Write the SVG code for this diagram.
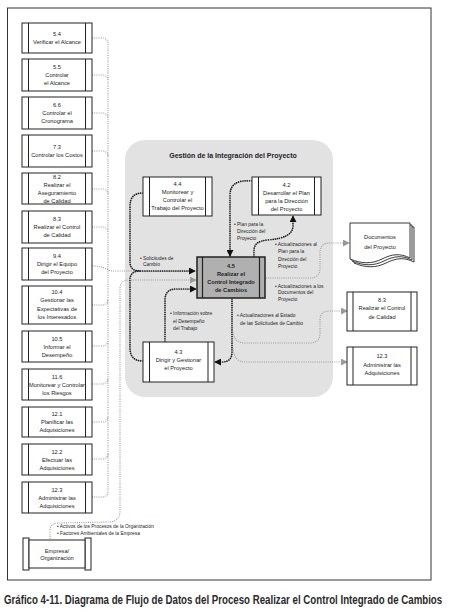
<svg xmlns="http://www.w3.org/2000/svg" width="454" height="616" viewBox="0 0 454 616">
<defs>
<style>
.box{fill:#fff;stroke:#222;stroke-width:1}
.t{font-family:"Liberation Sans",Arial,sans-serif;font-size:5.7px;fill:#222;text-anchor:middle}
.b{font-weight:bold}
.lbl{font-family:"Liberation Sans",Arial,sans-serif;font-size:4.9px;fill:#222}
.dk{fill:none;stroke:#1a1a1a;stroke-width:1.7;stroke-dasharray:0.01 2.2;stroke-linecap:round}
.gr{fill:none;stroke:#9a9a9a;stroke-width:1.1;stroke-dasharray:1 1.2}
</style>
<marker id="ad" viewBox="0 0 8 8" refX="7" refY="4" markerWidth="7" markerHeight="7" markerUnits="userSpaceOnUse" orient="auto"><path d="M0,0 L8,4 L0,8 z" fill="#111"/></marker>
<marker id="ag" viewBox="0 0 8 8" refX="7" refY="4" markerWidth="7" markerHeight="7" markerUnits="userSpaceOnUse" orient="auto"><path d="M0,0 L8,4 L0,8 z" fill="#9a9a9a"/></marker>
</defs>
<rect width="454" height="616" fill="#fff"/>
<rect x="7.5" y="8" width="423.5" height="572" fill="none" stroke="#333" stroke-width="1"/>

<rect id="integration-area" x="125" y="140" width="208" height="257" rx="20" fill="#e2e2e2"/>
<text x="233" y="158" font-family="Liberation Sans,Arial,sans-serif" font-size="7px" font-weight="bold" fill="#222" text-anchor="middle">Gestión de la Integración del Proyecto</text>

<g id="connectors">
<path class="gr" d="M92,38 H102 Q108,38 108,44 M92,75 H102 Q108,75 108,81 M92,113 H102 Q108,113 108,119 M92,151 H102 Q108,151 108,157 M92,189 H102 Q108,189 108,195 M92,227 H102 Q108,227 108,233 M92,305 H102 Q108,305 108,299 M92,346 H102 Q108,346 108,340 M92,384 H102 Q108,384 108,378 M92,422 H102 Q108,422 108,416 M92,459 H102 Q108,459 108,453 M92,497 H102 Q108,497 108,491 M108,44 V491"/>
<path class="gr" d="M92,266 Q104,266 110,271 L195,271"/>
<path class="gr" d="M50,539 L50,531 Q50,523 58,523 L110,522 Q120,521 120,511 L120,289 Q120,280 129,280 L196,280" marker-end="url(#ag)"/>
<path class="dk" d="M143,193 Q130,193 130,206 L130,262 Q130,271 140,271 L195,271" marker-end="url(#ad)"/>
<path class="dk" d="M143,361 Q130,361 130,348 L130,280 Q130,271 140,271"/>
<path class="dk" d="M165,341 L165,300 Q165,289 176,289 L196,289" marker-end="url(#ad)"/>
<path class="dk" d="M252,181 Q230,179 230,195 L230,256" marker-end="url(#ad)"/>
<path class="dk" d="M254,257 L254,250 Q254,241 268,240 Q293,238 293,226 L293,216" marker-end="url(#ad)"/>
<path class="dk" d="M232,299 L232,352 Q232,362 222,362 L215,362" marker-end="url(#ad)"/>
<path class="gr" d="M266,278 L310,278 Q320,278 320,268 L320,253 Q320,243 330,243 L349,243" marker-end="url(#ag)"/>
<path class="gr" d="M233,332 Q234,343 245,343 L310,343 Q320,343 320,333 L320,320 Q320,311 330,311 L347,311" marker-end="url(#ag)"/>
<path class="gr" d="M233,348 Q234,362 245,362 L347,362" marker-end="url(#ag)"/>
</g>

<g id="labels">
<text class="lbl" x="140" y="259.5">• Solicitudes de</text>
<text class="lbl" x="143" y="266">Cambio</text>
<text class="lbl" x="234" y="225.5">• Plan para la</text>
<text class="lbl" x="237" y="232.8">Dirección del</text>
<text class="lbl" x="237" y="239.5">Proyecto</text>
<text class="lbl" x="275" y="245.7">• Actualizaciones al</text>
<text class="lbl" x="278" y="253.4">Plan para la</text>
<text class="lbl" x="278" y="260.7">Dirección del</text>
<text class="lbl" x="278" y="268.4">Proyecto</text>
<text class="lbl" x="275" y="287.7">• Actualizaciones a los</text>
<text class="lbl" x="278" y="294.4">Documentos del</text>
<text class="lbl" x="278" y="301">Proyecto</text>
<text class="lbl" x="237" y="316.7">• Actualizaciones al Estado</text>
<text class="lbl" x="240" y="324.5">de las Solicitudes de Cambio</text>
<text class="lbl" x="170" y="315">• Información sobre</text>
<text class="lbl" x="173" y="322.7">el Desempeño</text>
<text class="lbl" x="173" y="330">del Trabajo</text>
<text class="lbl" x="57" y="527.7">• Activos de los Procesos de la Organización</text>
<text class="lbl" x="57" y="535.4">• Factores Ambientales de la Empresa</text>
</g>

<g id="n54"><rect class="box" x="22" y="23" width="70" height="30"/><path d="M28.5,23V53M85.5,23V53" stroke="#222"/><text class="t" x="57" y="36">5.4</text><text class="t" x="57" y="44">Verificar el Alcance</text></g>
<g id="n55"><rect class="box" x="22" y="59" width="70" height="32"/><path d="M28.5,59V91M85.5,59V91" stroke="#222"/><text class="t" x="57" y="69">5.5</text><text class="t" x="57" y="77">Controlar</text><text class="t" x="57" y="85">el Alcance</text></g>
<g id="n66"><rect class="box" x="22" y="97" width="70" height="32"/><path d="M28.5,97V129M85.5,97V129" stroke="#222"/><text class="t" x="57" y="107">6.6</text><text class="t" x="57" y="115">Controlar el</text><text class="t" x="57" y="123">Cronograma</text></g>
<g id="n73"><rect class="box" x="22" y="135" width="70" height="32"/><path d="M28.5,135V167M85.5,135V167" stroke="#222"/><text class="t" x="57" y="149">7.3</text><text class="t" x="57" y="157">Controlar los Costos</text></g>
<g id="n82"><rect class="box" x="22" y="173" width="70" height="31"/><path d="M28.5,173V204M85.5,173V204" stroke="#222"/><text class="t" x="57" y="179">8.2</text><text class="t" x="57" y="187">Realizar el</text><text class="t" x="57" y="195">Aseguramiento</text><text class="t" x="57" y="203">de Calidad</text></g>
<g id="n83"><rect class="box" x="22" y="211" width="70" height="32"/><path d="M28.5,211V243M85.5,211V243" stroke="#222"/><text class="t" x="57" y="221">8.3</text><text class="t" x="57" y="229">Realizar el Control</text><text class="t" x="57" y="237">de Calidad</text></g>
<g id="n94"><rect class="box" x="22" y="248" width="70" height="32"/><path d="M28.5,248V280M85.5,248V280" stroke="#222"/><text class="t" x="57" y="258">9.4</text><text class="t" x="57" y="266">Dirigir el Equipo</text><text class="t" x="57" y="274">del Proyecto</text></g>
<g id="n104"><rect class="box" x="22" y="286" width="70" height="38"/><path d="M28.5,286V324M85.5,286V324" stroke="#222"/><text class="t" x="57" y="294">10.4</text><text class="t" x="57" y="302">Gestionar las</text><text class="t" x="57" y="310.5">Expectativas de</text><text class="t" x="57" y="319">los Interesados</text></g>
<g id="n105"><rect class="box" x="22" y="331" width="70" height="31"/><path d="M28.5,331V362M85.5,331V362" stroke="#222"/><text class="t" x="57" y="340.5">10.5</text><text class="t" x="57" y="348.5">Informar el</text><text class="t" x="57" y="356.5">Desempeño</text></g>
<g id="n116"><rect class="box" x="22" y="369" width="70" height="31"/><path d="M28.5,369V400M85.5,369V400" stroke="#222"/><text class="t" x="57" y="378.5">11.6</text><text class="t" x="57" y="386.5" textLength="56" lengthAdjust="spacingAndGlyphs">Monitorear y Controlar</text><text class="t" x="57" y="394.5">los Riesgos</text></g>
<g id="n121"><rect class="box" x="22" y="407" width="70" height="30"/><path d="M28.5,407V437M85.5,407V437" stroke="#222"/><text class="t" x="57" y="416">12.1</text><text class="t" x="57" y="424">Planificar las</text><text class="t" x="57" y="432">Adquisiciones</text></g>
<g id="n122"><rect class="box" x="22" y="444" width="70" height="31"/><path d="M28.5,444V475M85.5,444V475" stroke="#222"/><text class="t" x="57" y="453.5">12.2</text><text class="t" x="57" y="461.5">Efectuar las</text><text class="t" x="57" y="469.5">Adquisiciones</text></g>
<g id="n123"><rect class="box" x="22" y="482" width="70" height="31"/><path d="M28.5,482V513M85.5,482V513" stroke="#222"/><text class="t" x="57" y="491.5">12.3</text><text class="t" x="57" y="499.5">Administrar las</text><text class="t" x="57" y="507.5">Adquisiciones</text></g>

<g id="empresa"><rect class="box" x="23" y="538" width="6" height="32"/><rect class="box" x="85" y="538" width="6" height="32"/><rect class="box" x="29" y="540" width="56" height="28"/><text class="t" x="57" y="552.5">Empresa/</text><text class="t" x="57" y="560">Organización</text></g>

<g id="n44"><rect class="box" x="143" y="177" width="69" height="39"/><path d="M149.5,177V216M205.5,177V216" stroke="#222"/><text class="t" x="177.5" y="185.5">4.4</text><text class="t" x="177.5" y="193.5">Monitorear y</text><text class="t" x="177.5" y="201.5">Controlar el</text><text class="t" x="177.5" y="210">Trabajo del Proyecto</text></g>
<g id="n42"><rect class="box" x="252" y="177" width="69" height="38"/><path d="M258.5,177V215M314.5,177V215" stroke="#222"/><text class="t" x="286.5" y="187">4.2</text><text class="t" x="286.5" y="195.3">Desarrollar el Plan</text><text class="t" x="286.5" y="203">para la Dirección</text><text class="t" x="286.5" y="211.3">del Proyecto</text></g>
<g id="n45"><rect x="197" y="257" width="68" height="41" fill="#b0b0b0" stroke="#222" stroke-width="1.5"/><path d="M202.5,257V298M259.5,257V298" stroke="#222" stroke-width="1.2"/><text class="t b" x="231" y="267.5">4.5</text><text class="t b" x="231" y="275.8">Realizar el</text><text class="t b" x="231" y="284.1">Control Integrado</text><text class="t b" x="231" y="292.4">de Cambios</text></g>
<g id="n43"><rect class="box" x="143" y="342" width="71" height="40"/><path d="M149.5,342V382M208,342V382" stroke="#222"/><text class="t" x="178.5" y="353.7">4.3</text><text class="t" x="178.5" y="362">Dirigir y Gestionar</text><text class="t" x="178.5" y="369.7">el Proyecto</text></g>

<g id="docs">
<path d="M354,227 H414 V262 C404,257 396,258 386,263 C376,268 366,268 354,263 Z" fill="#fff" stroke="#222" stroke-width="0.9"/>
<path d="M352,225 H412 V260 C402,255 394,256 384,261 C374,266 364,266 352,261 Z" fill="#fff" stroke="#222" stroke-width="0.9"/>
<path d="M350,223 H410 V258 C400,253 392,254 382,259 C372,264 362,264 350,259 Z" fill="#fff" stroke="#222" stroke-width="0.9"/>
<text class="t" x="380" y="238.7">Documentos</text><text class="t" x="380" y="248.7">del Proyecto</text>
</g>
<g id="r83"><rect class="box" x="347" y="292" width="70" height="39"/><path d="M353,292V331M411,292V331" stroke="#222"/><text class="t" x="382" y="302">8.3</text><text class="t" x="382" y="310.3">Realizar el Control</text><text class="t" x="382" y="318.7">de Calidad</text></g>
<g id="r123"><rect class="box" x="347" y="347" width="70" height="38"/><path d="M353,347V385M411,347V385" stroke="#222"/><text class="t" x="382" y="358">12.3</text><text class="t" x="382" y="367">Administrar las</text><text class="t" x="382" y="375.3">Adquisiciones</text></g>

<text transform="translate(4,604) scale(1,1.3)" x="0" y="0" font-family="Liberation Sans,Arial,sans-serif" font-size="9.7px" font-weight="bold" fill="#2a2a2a">Gráfico 4-11. Diagrama de Flujo de Datos del Proceso Realizar el Control Integrado de Cambios</text>
</svg>
